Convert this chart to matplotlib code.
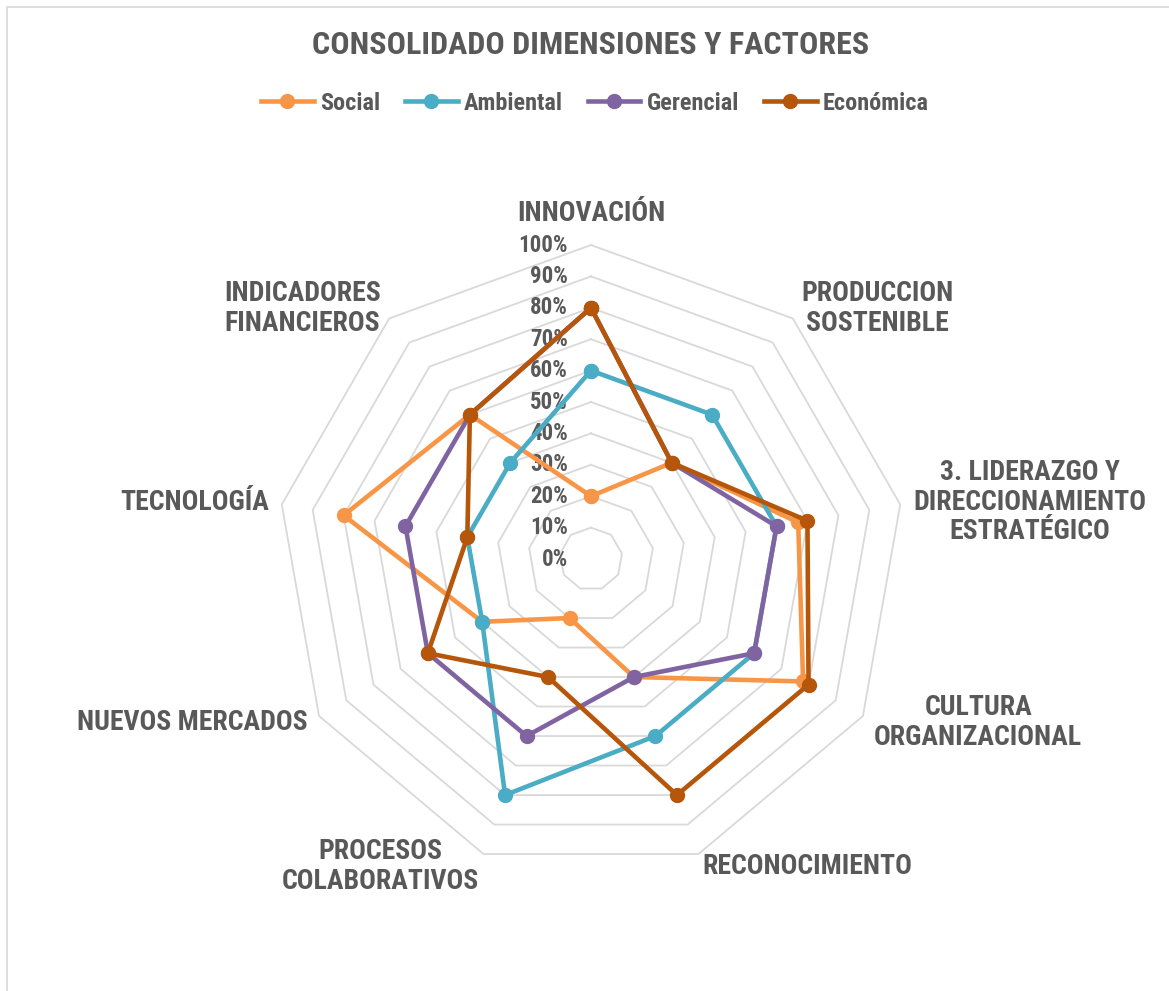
import numpy as np
import matplotlib
matplotlib.use("Agg")
import matplotlib.pyplot as plt
from matplotlib.patches import Rectangle

plt.rcParams["font.family"] = ["Roboto Condensed", "DejaVu Sans"]

# --- datos ---
categorias = ["INNOVACIÓN", "PRODUCCION\nSOSTENIBLE",
              "3. LIDERAZGO Y\nDIRECCIONAMIENTO\nESTRATÉGICO",
              "CULTURA\nORGANIZACIONAL", "RECONOCIMIENTO",
              "PROCESOS\nCOLABORATIVOS", "NUEVOS MERCADOS",
              "TECNOLOGÍA", "INDICADORES\nFINANCIEROS"]
social = [0.20, 0.40, 0.67, 0.78, 0.40, 0.20, 0.40, 0.80, 0.60]
ambiental = [0.60, 0.60, 0.60, 0.60, 0.60, 0.80, 0.40, 0.40, 0.40]
gerencial = [0.80, 0.40, 0.60, 0.60, 0.40, 0.60, 0.60, 0.60, 0.60]
economica = [0.80, 0.40, 0.70, 0.80, 0.80, 0.40, 0.60, 0.40, 0.60]
niveles = [0.0, 0.1, 0.2, 0.3, 0.4, 0.5, 0.6, 0.7, 0.8, 0.9, 1.0]

series = [("Social", social, "#F79646"),
          ("Ambiental", ambiental, "#4BACC6"),
          ("Gerencial", gerencial, "#8064A2"),
          ("Económica", economica, "#B5560A")]

txt = "#595959"
grid_c = "#D9D9D9"

fig = plt.figure(figsize=(11.69, 9.91), dpi=100)
fig.patches.append(Rectangle((7 / 1169, -0.05), 1.2, (991 - 7) / 991 + 0.05,
                             transform=fig.transFigure, fill=False,
                             edgecolor=grid_c, linewidth=1.2))

cx, cy, R = 591 / 1169, 1 - 559 / 991, 314
ax = fig.add_axes([cx - R / 1169, cy - R / 991, 2 * R / 1169, 2 * R / 991],
                  projection="polar")
ax.set_theta_offset(np.pi / 2)
ax.set_theta_direction(-1)
ax.set_ylim(0, 1)
ax.grid(False)
ax.set_xticks([])
ax.set_yticks([])
ax.spines["polar"].set_visible(False)
ax.patch.set_alpha(0)

n = len(categorias)
ang = np.linspace(0, 2 * np.pi, n, endpoint=False)
ang_c = np.append(ang, ang[0])

# anillos poligonales
for v in niveles[1:]:
    ax.plot(ang_c, [v] * (n + 1), color=grid_c, lw=1.3, zorder=1, clip_on=False)

# etiquetas de porcentaje
for v in niveles:
    ax.annotate(f"{v:.0%}", xy=(0, v), xytext=(-23, 0), textcoords="offset pixels",
                ha="right", va="center", fontsize=16.5, fontweight="bold", color=txt,
                annotation_clip=False)

# series
for i, (nombre, vals, col) in enumerate(series):
    ax.plot(ang_c, vals + vals[:1], color=col, lw=3.3, marker="o", markersize=10,
            label=nombre, zorder=3 + i, clip_on=False, solid_joinstyle="round")

# etiquetas de categorías
for a, lab in zip(ang, categorias):
    s, c = np.sin(a), np.cos(a)
    if abs(s) < 0.1:
        ha, va, off = "center", "bottom", (0, 18)
    else:
        ha = "left" if s > 0 else "right"
        va = "center"
        off = (s * 13, c * 13)
    ax.annotate(lab, xy=(a, 1.0), xytext=off, textcoords="offset pixels",
                ha=ha, va=va, multialignment="center", fontsize=20,
                fontweight="bold", color=txt, annotation_clip=False,
                linespacing=1.12)

fig.text(cx, 1 - 45 / 991, "CONSOLIDADO DIMENSIONES Y FACTORES", ha="center",
         va="center", fontsize=23, fontweight="bold", color=txt)

leg = fig.legend(loc="center", bbox_to_anchor=(595 / 1169, 1 - 103 / 991), ncol=4,
                 frameon=False, handlelength=2.15, columnspacing=1.05,
                 handletextpad=0.25, prop={"size": 17.5, "weight": "bold"})
for t in leg.get_texts():
    t.set_color(txt)

fig.savefig("out.png", dpi=100)
